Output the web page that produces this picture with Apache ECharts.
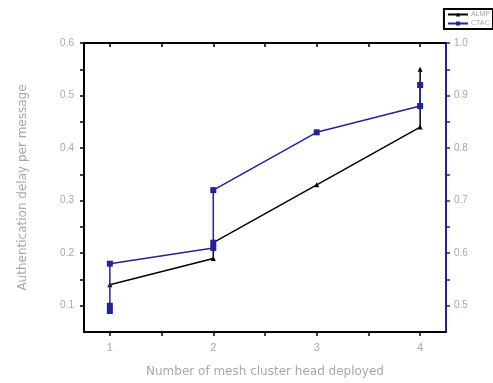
<!DOCTYPE html>
<html>
<head>
<meta charset="utf-8">
<script src="https://cdn.jsdelivr.net/npm/echarts@6/dist/echarts.min.js"></script>
<style>
  html, body { margin: 0; padding: 0; background: #fff; }
  #main { width: 493px; height: 383px; }
</style>
</head>
<body>
<div id="main"></div>
<script>
var almpX = [1, 2, 2, 3, 4, 4];
var almpY = [0.14, 0.19, 0.22, 0.33, 0.44, 0.55];
var ctacX = [1, 1, 1, 2, 2, 2, 3, 4, 4];
var ctacY = [0.09, 0.10, 0.18, 0.21, 0.22, 0.32, 0.43, 0.48, 0.52];

var xLabels = [1, 2, 3, 4];
var xTicks = [1, 1.5, 2, 2.5, 3, 3.5, 4];
var leftLabels = [0.1, 0.2, 0.3, 0.4, 0.5, 0.6];
var rightLabels = [0.5, 0.6, 0.7, 0.8, 0.9, 1.0];
var yTicks = [0.1, 0.15, 0.2, 0.25, 0.3, 0.35, 0.4, 0.45, 0.5, 0.55, 0.6];
var yTicksRight = [0.5, 0.55, 0.6, 0.65, 0.7, 0.75, 0.8, 0.85, 0.9, 0.95, 1.0];

function pairs(xs, ys) {
  return xs.map(function (x, i) { return [x, ys[i]]; });
}

var chart = echarts.init(document.getElementById('main'));
var grey = '#a8a8a8';
var navy = '#22229a';

var option = {
  backgroundColor: '#fff',
  animation: false,
  legend: {
    right: 0,
    top: 9,
    orient: 'vertical',
    itemWidth: 20,
    itemHeight: 5,
    itemGap: 2,
    padding: [2, 3],
    borderColor: '#000',
    borderWidth: 2,
    textStyle: { fontSize: 7, color: grey, padding: [0, 0, 0, -2] },
    data: ['ALMP', 'CTAC']
  },
  grid: { left: 84, right: 47, top: 43, bottom: 48 },
  xAxis: [{
    type: 'value',
    min: 0.75,
    max: 4.25,
    name: 'Number of mesh cluster head deployed',
    nameLocation: 'middle',
    nameGap: 34,
    nameTextStyle: { color: grey, fontSize: 12, fontFamily: 'DejaVu Sans' },
    axisLine: { lineStyle: { color: '#000', width: 2 } },
    axisTick: { customValues: xTicks, length: 4, lineStyle: { color: '#000', width: 1.5 } },
    axisLabel: { customValues: xLabels, color: grey, fontSize: 11, margin: 10 },
    splitLine: { show: false }
  }, {
    type: 'value',
    position: 'top',
    min: 0.75,
    max: 4.25,
    axisLine: { onZero: false, lineStyle: { color: '#000', width: 2 } },
    axisTick: { customValues: xTicks, inside: true, length: 4, lineStyle: { color: '#000', width: 1.5 } },
    axisLabel: { show: false },
    splitLine: { show: false }
  }],
  yAxis: [{
    type: 'value',
    min: 0.05,
    max: 0.6,
    name: 'Authentication delay per message',
    nameLocation: 'middle',
    nameGap: 55,
    nameTextStyle: { color: grey, fontSize: 12, fontFamily: 'DejaVu Sans' },
    axisLine: { show: true, onZero: false, lineStyle: { color: '#000', width: 2 } },
    axisTick: { show: true, customValues: yTicks, length: 4, lineStyle: { color: '#000', width: 1.5 } },
    axisLabel: { customValues: leftLabels, color: grey, fontSize: 10, margin: 10,
      formatter: function (v) { return v.toFixed(1); } },
    splitLine: { show: false }
  }, {
    type: 'value',
    position: 'right',
    min: 0.45,
    max: 1.0,
    axisLine: { show: true, onZero: false, lineStyle: { color: navy, width: 2 } },
    axisTick: { show: true, customValues: yTicksRight, length: 4, lineStyle: { color: navy, width: 1.5 } },
    axisLabel: { customValues: rightLabels, color: grey, fontSize: 10, margin: 8,
      formatter: function (v) { return v.toFixed(1); } },
    splitLine: { show: false }
  }],
  series: [{
    name: 'ALMP',
    type: 'line',
    data: pairs(almpX, almpY),
    color: '#000',
    symbol: 'triangle',
    symbolSize: 5,
    lineStyle: { color: '#000', width: 1.5 },
    itemStyle: { color: '#000' },
    z: 2
  }, {
    name: 'CTAC',
    type: 'line',
    data: pairs(ctacX, ctacY),
    color: navy,
    symbol: 'rect',
    symbolSize: 6,
    lineStyle: { color: navy, width: 1.5 },
    itemStyle: { color: navy },
    z: 3
  }]
};

chart.setOption(option);
</script>
</body>
</html>
